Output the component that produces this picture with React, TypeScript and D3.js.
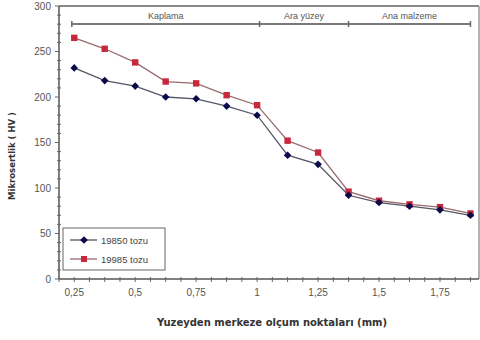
import React from "react";
import * as d3 from "d3";

const positions = [0.25, 0.375, 0.5, 0.625, 0.75, 0.875, 1.0, 1.125, 1.25, 1.375, 1.5, 1.625, 1.75, 1.875];
const series19850 = [232, 218, 212, 200, 198, 190, 180, 136, 126, 92, 84, 80, 76, 70];
const series19985 = [265, 253, 238, 217, 215, 202, 191, 152, 139, 96, 86, 82, 79, 72];
const seriesNames = ["19850 tozu", "19985 tozu"];
const xTickValues = [0.25, 0.5, 0.75, 1, 1.25, 1.5, 1.75];
const yTickValues = [0, 50, 100, 150, 200, 250, 300];
const regionNames = ["Kaplama", "Ara yüzey", "Ana malzeme"];
const regionBounds = [0.24, 1.01, 1.375, 1.875];

const W = 480, H = 340;
const L = 59, R = 479, T = 6, B = 279;

export default function App() {
  const x = d3.scaleLinear().domain([0.1875, 1.91]).range([L, R]);
  const y = d3.scaleLinear().domain([0, 300]).range([B, T]);
  const line = d3.line<number>().x((_, i) => x(positions[i])).y((v) => y(v));
  const fmt = (v: number) => String(v).replace(".", ",");
  const xMinor = d3.range(0.1875, 1.91, 0.0625);
  const yMinor = d3.range(0, 301, 10);
  const font = "'Liberation Sans', Arial, sans-serif";
  const titleFont = "'DejaVu Sans', Verdana, sans-serif";
  const blue = "#0a0a4a";
  const red = "#c8283c";
  const diamond = (cx: number, cy: number, r = 3.8) =>
    `M${cx},${cy - r}L${cx + r},${cy}L${cx},${cy + r}L${cx - r},${cy}Z`;
  return (
    <svg width={W} height={H} style={{ position: "absolute", left: 0, top: 0, background: "#fff" }} fontFamily={font}>
      <rect width={W} height={H} fill="#fff" />
      {/* frame */}
      <line x1={L} x2={R} y1={T} y2={T} stroke="#8a8a8a" strokeWidth={2} />
      <line x1={R} x2={R} y1={T} y2={B} stroke="#9a9a9a" strokeWidth={1.5} />
      <line x1={L} x2={L} y1={T} y2={B} stroke="#555" strokeWidth={1.5} />
      <line x1={L} x2={R} y1={B} y2={B} stroke="#555" strokeWidth={1.5} />
      {yMinor.map((v) => (
        <line key={"ym" + v} x1={L - (v % 50 === 0 ? 4 : 2)} x2={L + (v % 50 === 0 ? 0 : 2)} y1={y(v)} y2={y(v)} stroke="#666" strokeWidth={1} />
      ))}
      {xMinor.map((v, i) => (
        <line key={"xm" + i} x1={x(v)} x2={x(v)} y1={B - 2} y2={B + 3} stroke="#666" strokeWidth={1} />
      ))}
      {yTickValues.map((v) => (
        <text key={"yt" + v} x={L - 8} y={y(v) + 3.5} textAnchor="end" fontSize={10} fill="#555">{v}</text>
      ))}
      {xTickValues.map((v) => (
        <text key={"xt" + v} x={x(v)} y={B + 17} textAnchor="middle" fontSize={10} fill="#555">{fmt(v)}</text>
      ))}
      {/* region bracket */}
      <line x1={x(regionBounds[0])} x2={x(regionBounds[3])} y1={24} y2={24} stroke="#7a7a7a" strokeWidth={2} />
      {regionBounds.map((b, i) => (
        <line key={"rb" + i} x1={x(b)} x2={x(b)} y1={21} y2={27} stroke="#666" strokeWidth={1.5} />
      ))}
      {regionNames.map((n, i) => (
        <text key={n} x={(x(regionBounds[i]) + x(regionBounds[i + 1])) / 2} y={19} textAnchor="middle" fontSize={9} fill="#555">{n}</text>
      ))}
      {/* series */}
      <path d={line(series19985) || ""} fill="none" stroke="#9a6a6e" strokeWidth={1.3} />
      <path d={line(series19850) || ""} fill="none" stroke="#555566" strokeWidth={1.3} />
      {series19985.map((v, i) => (
        <rect key={"r" + i} x={x(positions[i]) - 3.2} y={y(v) - 3.2} width={6.4} height={6.4} fill={red} />
      ))}
      {series19850.map((v, i) => (
        <path key={"b" + i} d={diamond(x(positions[i]), y(v))} fill={blue} />
      ))}
      {/* legend */}
      <rect x={63} y={228} width={102} height={42} fill="#fff" stroke="#666" strokeWidth={1} />
      <line x1={70} x2={97} y1={240} y2={240} stroke="#555566" strokeWidth={1.3} />
      <path d={diamond(84, 240)} fill={blue} />
      <text x={101} y={243.5} fontSize={9.5} fill="#444">{seriesNames[0]}</text>
      <line x1={70} x2={97} y1={259} y2={259} stroke="#9a6a6e" strokeWidth={1.3} />
      <rect x={81} y={256} width={6} height={6} fill={red} />
      <text x={101} y={262.5} fontSize={9.5} fill="#444">{seriesNames[1]}</text>
      {/* titles */}
      <text transform={`translate(15,${156}) rotate(-90)`} textAnchor="middle" fontFamily={titleFont} fontSize={8.5} fontWeight="bold" fill="#333">Mikrosertlik ( HV )</text>
      <text x={272} y={326} textAnchor="middle" fontFamily={titleFont} fontSize={10} fontWeight="bold" fill="#333">Yuzeyden merkeze olçum noktaları (mm)</text>
    </svg>
  );
}
